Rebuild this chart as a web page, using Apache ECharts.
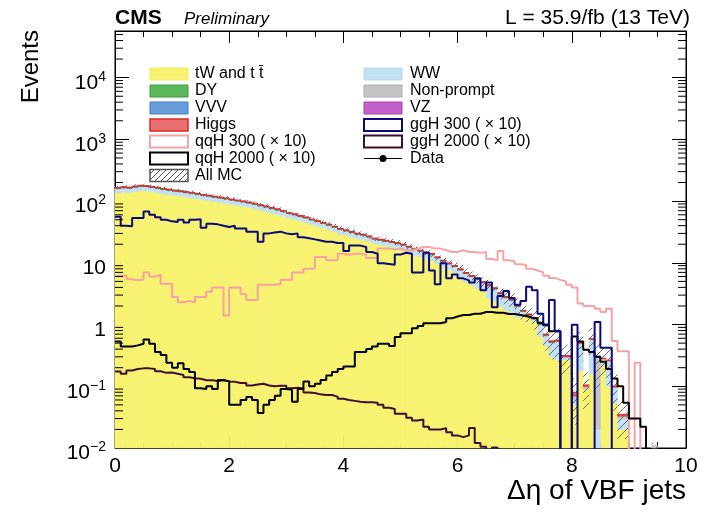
<!DOCTYPE html>
<html><head><meta charset="utf-8">
<script src="https://cdn.jsdelivr.net/npm/echarts@6/dist/echarts.min.js"></script>
<style>html,body{margin:0;padding:0;background:#fff}#c{width:711px;height:515px}</style>
</head><body><div id="c"></div>
<script>
// ---- binning ----
const binLow = 0, binWidth = 0.1, nBins = 100;
// ---- stacked backgrounds (events per bin) ----
const tWtt = [135,139,138,143,147,146,141,136,131,127,
123,120,116,113,109,105,102,98,95,92,
88,85,82,79,75,71,68,64,61,57,
53,51,47,45,42,39,37,34,32,29,
28,26,24.5,23.5,22,20.5,19.5,18.8,18,17,
15.6,14.4,13.2,12.5,11.7,10.9,9.7,8.6,7.8,7,
5.6,4.9,4.4,3.9,3.5,2.7,2.4,2.0,1.7,1.55,
1.3,1.35,1.3,1.1,0.64,0.45,0.3,0.27,0.27,0.27,
0.05,0.18,0.09,0.16,0,0.22,0.1,0.053,0.02,0.02,
0,0,0,0,0,0,0,0,0,0];
const WW = [23,24,23,24,25,24,24,23,22,21.5,
21,20.5,19.5,19,18.5,17.5,17,16.5,16,15.5,
15,14.5,14,13.3,13,12.3,11.7,11,10.4,10,
9.3,8.5,8.6,7.8,7,7,6.2,6.3,5.3,5.3,
4.6,4.6,4.3,4.3,4,3.5,3.5,3.3,3.1,3.2,
3.6,3.3,3.1,2.8,2.6,2.5,2.2,1.9,1.7,1.6,
2.0,1.7,1.5,1.4,1.2,1.5,1.35,1.1,1.0,0.9,
0.65,0.27,0.1,0.1,0.35,0.2,0.2,0.25,0.02,0.02,
0.01,0.3,0,0.4,0.02,0.05,0.15,0.04,0.01,0.01,
0,0,0,0,0,0,0,0,0,0];
const nonPrompt = [1.5,1.6,1.5,1.6,1.7,1.6,1.6,1.5,1.5,1.4,
1.4,1.3,1.3,1.3,1.2,1.2,1.1,1.1,1.1,1.0,
1.0,0.95,0.9,0.9,0.85,0.8,0.75,0.7,0.7,0.65,
0.6,0.55,0.55,0.5,0.45,0.45,0.4,0.4,0.35,0.35,
0.3,0.3,0.28,0.27,0.25,0.23,0.22,0.21,0.2,0.19,
0.18,0.17,0.16,0.15,0.14,0.13,0.12,0.11,0.1,0.09,
0.08,0.08,0.07,0.06,0.05,0.05,0.04,0.04,0.03,0.03,
0.02,0.02,0.02,0.02,0.02,0.01,0.01,0.01,0.01,0.01,
0.01,0.02,0.01,0.02,0.28,0.01,0.01,0.005,0.003,0.003,
0,0,0,0,0.011,0,0,0,0,0];
const VZ = [0.6,0.62,0.6,0.63,0.65,0.64,0.62,0.6,0.58,0.56,
0.55,0.54,0.52,0.5,0.49,0.47,0.46,0.44,0.43,0.41,
0.4,0.38,0.37,0.35,0.34,0.32,0.31,0.29,0.28,0.26,
0.25,0.23,0.22,0.21,0.19,0.18,0.17,0.16,0.15,0.14,
0.13,0.12,0.12,0.11,0.1,0.1,0.09,0.09,0.08,0.08,
0.07,0.07,0.06,0.06,0.05,0.05,0.05,0.04,0.04,0.04,
0.03,0.03,0.03,0.02,0.02,0.02,0.02,0.02,0.01,0.01,
0.01,0.01,0.01,0.01,0.005,0.005,0.005,0.005,0.003,0.003,
0,0,0,0,0,0,0,0,0,0,
0,0,0,0,0,0,0,0,0,0];
const VVV = [0.4,0.42,0.41,0.43,0.44,0.43,0.42,0.41,0.4,0.39,
0.38,0.37,0.36,0.35,0.34,0.33,0.32,0.31,0.3,0.29,
0.28,0.27,0.26,0.25,0.24,0.23,0.22,0.21,0.2,0.19,
0.18,0.17,0.16,0.15,0.14,0.13,0.13,0.12,0.11,0.1,
0.1,0.09,0.09,0.08,0.08,0.07,0.07,0.06,0.06,0.06,
0.05,0.05,0.05,0.04,0.04,0.04,0.03,0.03,0.03,0.03,
0.02,0.02,0.02,0.02,0.02,0.01,0.01,0.01,0.01,0.01,
0.01,0.005,0.005,0.005,0.005,0.005,0.003,0.003,0.002,0.002,
0,0,0,0,0,0,0,0,0,0,
0,0,0,0,0,0,0,0,0,0];
const DY = [2.0,2.1,2.0,2.1,2.2,2.1,2.1,2.0,1.9,1.9,
1.8,1.8,1.7,1.7,1.6,1.5,1.5,1.4,1.4,1.3,
1.3,1.2,1.2,1.2,1.1,1.0,1.0,0.9,0.9,0.8,
0.8,0.7,0.7,0.7,0.6,0.6,0.5,0.5,0.5,0.4,
0.4,0.4,0.4,0.35,0.35,0.3,0.3,0.3,0.3,0.25,
0.25,0.22,0.3,0.2,0.2,0.35,0.15,0.15,0.12,0.11,
0.1,0.09,0.08,0.07,0.06,0.06,0.05,0.04,0.04,0.03,
0.03,0.02,0.02,0.02,0.01,0.01,0.01,0.01,0,0,
0,0,0,0,0,0,0,0,0,0,
0,0,0,0,0,0,0,0,0,0];
const higgs = [3.0,3.1,3.0,3.2,3.3,3.2,3.1,3.0,2.9,2.8,
2.7,2.7,2.6,2.5,2.4,2.3,2.3,2.2,2.1,2.0,
2.0,1.9,1.8,1.7,1.7,1.6,1.5,1.4,1.4,1.3,
1.2,1.1,1.1,1.0,0.9,0.9,0.8,0.8,0.7,0.7,
0.6,0.6,0.55,0.55,0.5,0.45,0.45,0.42,0.4,0.38,
0.36,0.33,0.31,0.29,0.27,0.25,0.22,0.2,0.18,0.16,
0.15,0.13,0.12,0.1,0.09,0.08,0.07,0.06,0.05,0.05,
0.04,0.03,0.03,0.02,0.02,0.02,0.015,0.01,0.01,0.01,
0.01,0.01,0.005,0.01,0.005,0.005,0.005,0.003,0.002,0.002,
0,0,0,0,0,0,0,0,0,0];
// relative MC uncertainty per bin
const mcRelErr = [0.07,0.07,0.07,0.07,0.07,0.07,0.07,0.07,0.07,0.07,
0.07,0.07,0.07,0.07,0.07,0.07,0.07,0.07,0.07,0.07,
0.07,0.07,0.07,0.07,0.08,0.08,0.08,0.08,0.08,0.08,
0.08,0.08,0.08,0.08,0.08,0.08,0.08,0.09,0.09,0.09,
0.09,0.09,0.09,0.1,0.1,0.1,0.1,0.1,0.1,0.1,
0.11,0.11,0.11,0.12,0.12,0.12,0.13,0.13,0.14,0.14,
0.15,0.15,0.16,0.17,0.18,0.2,0.2,0.22,0.25,0.25,
0.3,0.3,0.3,0.35,0.4,0.45,0.5,0.55,0.5,0.5,
0.7,0.5,0.6,0.5,0.7,0.5,0.6,0.6,0.6,0.6,
0.6,0.6,0.6,0.6,0.1,0.6,0.6,0.6,0.6,0.6];
// ---- signals (x10) ----
const ggH300 = [56,40,39,53,53,68,60,55,50,47,
46,50,45,50,51,37,43,42,40,38,
40,36,36,32,32,22,30,31,32,30,
29,30,26,25,24,23,22,22,21,21,
15.5,19,19,18,15,14,9.8,9.6,9.3,13.6,
14.6,14,7,7,14.6,7.5,4.5,9.8,5.6,6.5,
5.6,5.2,4.8,5.6,3.6,4.8,1.9,2.9,3.5,2.7,
2.1,2.4,4.1,3.6,1.5,1.0,2.5,0.78,0,0,
0.99,0,0,0,1.1,0.42,0.42,0,0,0,
0,0,0,0,0,0,0,0,0,0];
const qqH300 = [6.2,6.2,5.4,5.2,5.3,7.0,6.0,6.4,4.6,4.6,
2.8,2.3,2.4,2.3,2.8,2.8,3.4,4.0,4.0,1.4,
4.0,4.0,3.1,2.5,2.5,4.4,4.4,4.4,4.5,5.3,
5.3,7.0,7.0,8.0,8.0,12.4,12.4,11,11,14,
13.5,14,14,13.5,12,12,17,17,16.5,17,
16,16,17,18,18,17,17,16,15,15,
16,15,15,14.5,15,11.5,11,15.5,11,10.5,
9.5,9.2,8,7.5,7,6.2,5.7,5.3,5,4.4,
4,2.2,2.0,2.0,1.8,1.6,1.8,0.54,0.37,0.37,
0,0.24,0,0,0,0,0,0,0,0];
const qqH2000 = [0.53,0.44,0.44,0.46,0.49,0.575,0.49,0.36,0.32,0.24,
0.2,0.235,0.19,0.17,0.093,0.09,0.1,0.09,0.126,0.12,
0.05,0.05,0.06,0.067,0.06,0.037,0.05,0.06,0.07,0.09,
0.088,0.056,0.09,0.12,0.1,0.11,0.126,0.15,0.17,0.19,
0.21,0.21,0.36,0.36,0.4,0.44,0.49,0.49,0.45,0.63,
0.72,0.72,0.87,0.95,1.05,1.05,1.05,1.1,1.26,1.35,
1.43,1.43,1.5,1.5,1.6,1.6,1.55,1.55,1.48,1.48,
1.43,1.38,1.3,1.26,1.07,0.97,0.78,0.78,0,0,
0.64,0.53,0.39,0.36,0.3,0.25,0.19,0.134,0.1,0.054,
0.03,0.03,0.022,0,0,0,0,0,0,0];
const ggH2000 = [0.173,0.16,0.18,0.19,0.195,0.195,0.19,0.175,0.165,0.167,
0.16,0.152,0.14,0.135,0.132,0.125,0.125,0.122,0.125,0.12,
0.118,0.113,0.113,0.103,0.107,0.11,0.103,0.1,0.102,0.102,
0.093,0.095,0.092,0.079,0.078,0.074,0.072,0.072,0.068,0.063,
0.06,0.058,0.056,0.055,0.055,0.054,0.05,0.045,0.043,0.036,
0.036,0.031,0.028,0.029,0.022,0.02,0.02,0.021,0.018,0.016,
0.015,0.016,0.021,0.012,0.0105,0.009,0.0102,0,0,0,
0,0,0,0,0,0,0,0,0,0,
0,0,0,0,0,0,0,0,0,0,
0,0,0,0,0,0,0,0,0,0];
// ---- axis ticks / labels ----
const xTicks = [0,2,4,6,8,10];
const yTicks = [0.01,0.1,1,10,100,1000,10000];
const yTickLabels = ['10{s|\u22122}','10{s|\u22121}','1','10','10{s|2}','10{s|3}','10{s|4}'];
const yMin = 0.01, yMax = 57000;

const FONT = '"Liberation Sans", Arial, Helvetica, sans-serif';
const FLOOR = 1e-4;
const edges = [];
for (let i = 0; i <= nBins; i++) edges.push(+(binLow + i * binWidth).toFixed(3));

// hatch pattern
function makeHatch(color, step) {
  const c = document.createElement('canvas');
  c.width = step; c.height = step;
  const g = c.getContext('2d');
  g.strokeStyle = color; g.lineWidth = 1;
  g.beginPath();
  g.moveTo(0, step); g.lineTo(step, 0);
  g.moveTo(-1, 1); g.lineTo(1, -1);
  g.moveTo(step - 1, step + 1); g.lineTo(step + 1, step - 1);
  g.stroke();
  return {image: c, repeat: 'repeat'};
}
const hatch = makeHatch('#6a6a6a', 8);
const hatchLegend = makeHatch('#555', 6);

const stackDefs = [
  {name: 'tW and t t\u0304', vals: tWtt, fill: '#f7f270', stroke: '#f7f270', lw: 0.6},
  {name: 'WW', vals: WW, fill: '#c3e1f1', stroke: '#c3e1f1', lw: 0.6},
  {name: 'Non-prompt', vals: nonPrompt, fill: '#c4c4c4', stroke: '#c4c4c4', lw: 0.6},
  {name: 'VZ', vals: VZ, fill: '#c45ec8', stroke: '#c45ec8', lw: 0.6},
  {name: 'VVV', vals: VVV, fill: '#6a9edb', stroke: '#6a9edb', lw: 0.6},
  {name: 'DY', vals: DY, fill: '#5cb85c', stroke: '#3f9a3f', lw: 0.8},
  {name: 'Higgs', vals: higgs, fill: '#e87070', stroke: '#e02828', lw: 1}
];

function boxRenderer(fill, stroke, lw) {
  return function (params, api) {
    const lo = Math.max(api.value(2), FLOOR), hi = Math.max(api.value(3), FLOOR);
    const a = api.coord([api.value(0), hi]);
    const b = api.coord([api.value(1), lo]);
    const cs = params.coordSys;
    const r = echarts.graphic.clipRectByRect(
      {x: a[0], y: a[1], width: b[0] - a[0], height: b[1] - a[1]},
      {x: cs.x, y: cs.y, width: cs.width, height: cs.height});
    if (!r) return null;
    return {type: 'rect', shape: r, style: {fill: fill, stroke: stroke, lineWidth: lw}};
  };
}

const series = [];
const cum = new Array(nBins).fill(0);
stackDefs.forEach(function (d) {
  const items = [];
  for (let i = 0; i < nBins; i++) {
    const v = d.vals[i];
    if (v > 0) items.push([edges[i], edges[i + 1], cum[i], cum[i] + v]);
    cum[i] += v;
  }
  series.push({type: 'custom', name: d.name, renderItem: boxRenderer(d.fill, d.stroke, d.lw),
    encode: {x: [0, 1], y: [2, 3]}, data: items, silent: true, z: 2});
});
// All MC uncertainty band
const bandItems = [];
for (let i = 0; i < nBins; i++) {
  if (cum[i] > 0) bandItems.push([edges[i], edges[i + 1], cum[i] * (1 - mcRelErr[i]), cum[i] * (1 + mcRelErr[i])]);
}
series.push({type: 'custom', name: 'All MC', renderItem: boxRenderer(hatch, null, 0),
  encode: {x: [0, 1], y: [2, 3]}, data: bandItems, silent: true, z: 3});

function stepData(vals) {
  const out = [];
  for (let i = 0; i < nBins; i++) out.push([edges[i], vals[i] > 0 ? vals[i] : FLOOR]);
  out.push([edges[nBins], vals[nBins - 1] > 0 ? vals[nBins - 1] : FLOOR]);
  return out;
}
const lineDefs = [
  {name: 'qqH 300 ( \u00d7 10)', vals: qqH300, color: '#f5a3a3'},
  {name: 'ggH 2000 ( \u00d7 10)', vals: ggH2000, color: '#3d0f35'},
  {name: 'qqH 2000 ( \u00d7 10)', vals: qqH2000, color: '#000000'},
  {name: 'ggH 300 ( \u00d7 10)', vals: ggH300, color: '#0a0a78'}
];
lineDefs.forEach(function (d) {
  series.push({type: 'line', name: d.name, step: 'end', data: stepData(d.vals), showSymbol: false,
    symbol: 'none', lineStyle: {color: d.color, width: 2}, clip: true, silent: true, z: 4, animation: false});
});

// y minor ticks (2..9 per decade), drawn on both frame sides
const minorY = [];
for (let e = -2; e <= 4; e++) for (let m = 2; m <= 9; m++) { const v = m * Math.pow(10, e); if (v < yMax) minorY.push([0, v]); }
series.push({type: 'custom', name: 'minor', silent: true, z: 6, encode: {x: 0, y: 1}, data: minorY,
  renderItem: function (params, api) {
    const p = api.coord([0, api.value(1)]);
    const cs = params.coordSys;
    const L = 8;
    return {type: 'group', children: [
      {type: 'line', shape: {x1: cs.x, y1: p[1], x2: cs.x + L, y2: p[1]}, style: {stroke: '#000', lineWidth: 1}},
      {type: 'line', shape: {x1: cs.x + cs.width - L, y1: p[1], x2: cs.x + cs.width, y2: p[1]}, style: {stroke: '#000', lineWidth: 1}}
    ]};
  }});

function yFmt(v) {
  const e = Math.log10(v);
  for (let k = 0; k < yTicks.length; k++) if (Math.abs(Math.log10(yTicks[k]) - e) < 1e-6) return yTickLabels[k];
  return '';
}

// legend
const rowY = [74, 91, 108, 125, 141.5, 158.5, 175.5];
const leftCol = [
  {t: 'tW and t t\u0304', fill: '#f7f270', stroke: '#f3ec60', lw: 1},
  {t: 'DY', fill: '#5cb85c', stroke: '#3f9a3f', lw: 1},
  {t: 'VVV', fill: '#6a9edb', stroke: '#3d7cc8', lw: 1},
  {t: 'Higgs', fill: '#e87070', stroke: '#e02828', lw: 1.5},
  {t: 'qqH 300 ( \u00d7 10)', fill: '#fff', stroke: '#f5a3a3', lw: 2},
  {t: 'qqH 2000 ( \u00d7 10)', fill: '#fff', stroke: '#000', lw: 2},
  {t: 'All MC', fill: hatchLegend, stroke: '#555', lw: 1.5}
];
const rightCol = [
  {t: 'WW', fill: '#c3e1f1', stroke: '#b5d8ec', lw: 1},
  {t: 'Non-prompt', fill: '#c4c4c4', stroke: '#b0b0b0', lw: 1},
  {t: 'VZ', fill: '#c45ec8', stroke: '#a842ae', lw: 1},
  {t: 'ggH 300 ( \u00d7 10)', fill: '#fff', stroke: '#0a0a78', lw: 2},
  {t: 'ggH 2000 ( \u00d7 10)', fill: '#fff', stroke: '#3d0f35', lw: 2},
  {t: 'Data', data: true}
];
const graphics = [];
function addCol(col, bx, tx) {
  col.forEach(function (e, k) {
    const y = rowY[k];
    if (e.data) {
      graphics.push({type: 'line', shape: {x1: bx, y1: y, x2: bx + 38, y2: y}, style: {stroke: '#000', lineWidth: 1}});
      graphics.push({type: 'circle', shape: {cx: bx + 19, cy: y, r: 3.5}, style: {fill: '#000'}});
    } else {
      graphics.push({type: 'rect', shape: {x: bx, y: y - 6, width: 38, height: 12}, style: {fill: e.fill, stroke: e.stroke, lineWidth: e.lw}});
    }
    graphics.push({type: 'text', style: {text: e.t, x: tx, y: y, font: '16px ' + FONT, fill: '#000', textAlign: 'left', textVerticalAlign: 'middle'}});
  });
}
addCol(leftCol, 150, 195);
addCol(rightCol, 364, 410);
graphics.push({type: 'text', style: {text: 'CMS', x: 115, y: 18, font: 'bold 21px ' + FONT, fill: '#000', textVerticalAlign: 'middle'}});
graphics.push({type: 'text', style: {text: 'Preliminary', x: 184, y: 19, font: 'italic 17px ' + FONT, fill: '#000', textVerticalAlign: 'middle'}});
graphics.push({type: 'text', style: {text: 'L = 35.9/fb (13 TeV)', x: 690, y: 18, font: '21px ' + FONT, fill: '#000', textAlign: 'right', textVerticalAlign: 'middle'}});
graphics.push({type: 'text', style: {text: '\u0394\u03b7 of VBF jets', x: 686, y: 491, font: '28px ' + FONT, fill: '#000', textAlign: 'right', textVerticalAlign: 'middle'}});
graphics.push({type: 'text', rotation: Math.PI / 2, x: 31, y: 30, style: {text: 'Events', x: 0, y: 0, font: '24px ' + FONT, fill: '#000', textAlign: 'right', textVerticalAlign: 'middle'}});

const axisCommonX = {type: 'value', min: 0, max: 10, interval: 2,
  axisLine: {show: true, onZero: false, lineStyle: {color: '#000', width: 1}},
  axisTick: {show: true, inside: true, length: 12, lineStyle: {color: '#000'}},
  minorTick: {show: true, splitNumber: 4, length: 6, lineStyle: {color: '#000'}},
  splitLine: {show: false}, minorSplitLine: {show: false}};
const axisCommonY = {type: 'log', logBase: 10, min: yMin, max: yMax,
  axisLine: {show: true, onZero: false, lineStyle: {color: '#000', width: 1}},
  axisTick: {show: true, inside: true, length: 14, lineStyle: {color: '#000'}},
  splitLine: {show: false}};

const chart = echarts.init(document.getElementById('c'), null, {renderer: 'canvas'});
chart.setOption({
  animation: false,
  backgroundColor: '#fff',
  grid: {left: 115, right: 25, top: 31, bottom: 67, show: true, borderColor: '#000', borderWidth: 1, backgroundColor: 'transparent'},
  xAxis: [
    Object.assign({}, axisCommonX, {position: 'bottom',
      axisLabel: {show: true, fontSize: 21, fontFamily: FONT, color: '#000', margin: 8,
        formatter: function (v) { return xTicks.indexOf(v) >= 0 ? String(v) : ''; }}}),
    Object.assign({}, axisCommonX, {position: 'top', axisLabel: {show: false}})
  ],
  yAxis: [
    Object.assign({}, axisCommonY, {position: 'left',
      axisLabel: {show: true, formatter: yFmt, fontSize: 21, fontFamily: FONT, color: '#000', margin: 9,
        showMaxLabel: false, padding: [11, 0, 0, 0],
        rich: {s: {fontSize: 14, fontFamily: FONT, color: '#000', padding: [0, 0, 12, 0]}}}}),
    Object.assign({}, axisCommonY, {position: 'right', axisLabel: {show: false}})
  ],
  series: series,
  graphic: graphics
});
</script>
</body></html>
